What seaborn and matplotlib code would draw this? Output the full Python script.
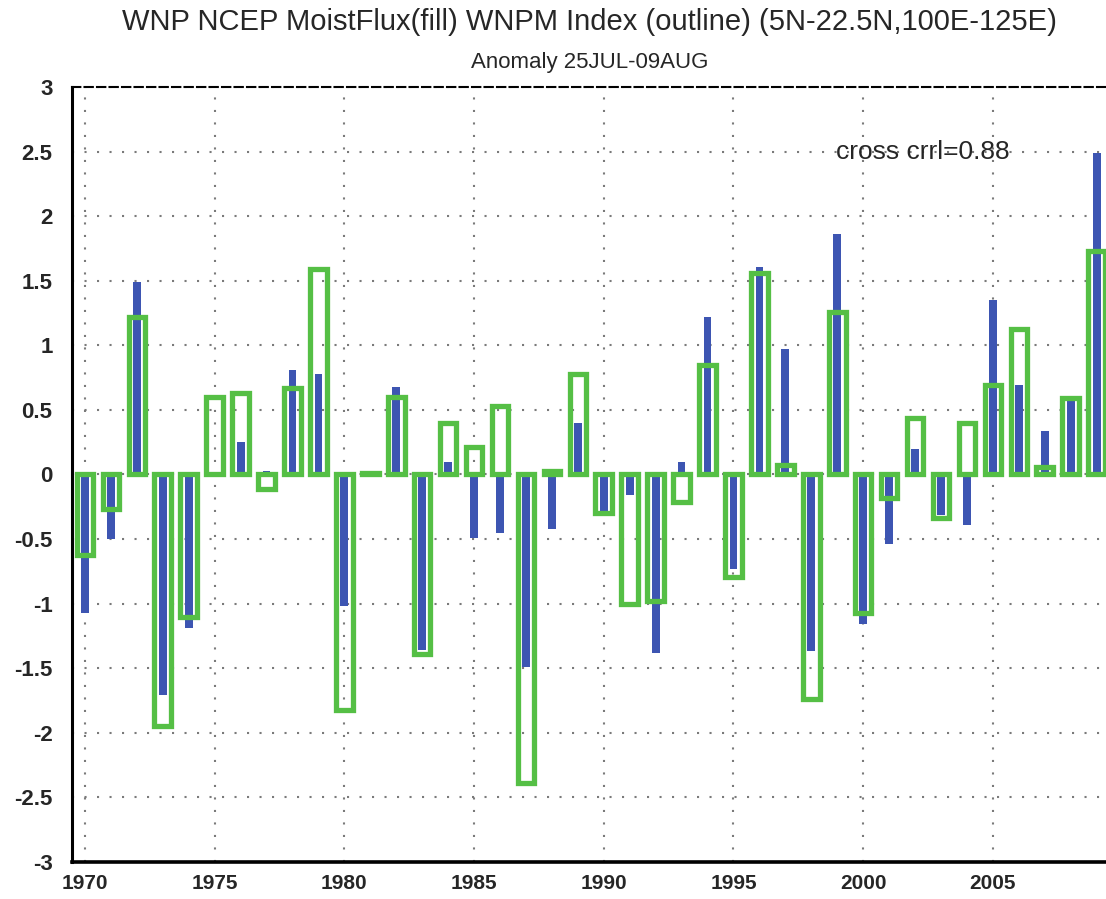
import matplotlib
matplotlib.use('Agg')
import matplotlib.pyplot as plt
import seaborn as sns

years = list(range(1970, 2010))

# moisture flux anomaly (filled blue bars)
moist_flux = [-1.07, -0.50, 1.49, -1.71, -1.19, 0.00, 0.25, 0.03, 0.81, 0.78,
              -1.02, 0.00, 0.68, -1.36, 0.10, -0.49, -0.45, -1.49, -0.42, 0.40,
              -0.28, -0.16, -1.38, 0.10, 1.22, -0.73, 1.61, 0.97, -1.37, 1.86,
              -1.16, -0.54, 0.20, -0.31, -0.39, 1.35, 0.69, 0.34, 0.57, 2.49]

# WNPM index (green outline bars)
wnpm_index = [-0.62, -0.27, 1.22, -1.95, -1.10, 0.60, 0.63, -0.11, 0.67, 1.59,
              -1.82, 0.01, 0.60, -1.39, 0.40, 0.21, 0.53, -2.39, 0.03, 0.78,
              -0.30, -1.00, -0.98, -0.21, 0.85, -0.79, 1.56, 0.07, -1.74, 1.26,
              -1.07, -0.18, 0.44, -0.34, 0.40, 0.69, 1.13, 0.06, 0.59, 1.73]

x_ticks = [1970, 1975, 1980, 1985, 1990, 1995, 2000, 2005]
y_ticks = [-3, -2.5, -2, -1.5, -1, -0.5, 0, 0.5, 1, 1.5, 2, 2.5, 3]
y_labels = ['-3', '-2.5', '-2', '-1.5', '-1', '-0.5', '0', '0.5', '1', '1.5', '2', '2.5', '3']

BLUE = '#3d55b2'
GREEN = '#55bf45'

sns.set_style('white')
plt.rcParams['font.family'] = ['Liberation Sans', 'DejaVu Sans']

fig = plt.figure(figsize=(11.06, 8.99), dpi=100)
ax = fig.add_axes([0.0651, 0.0412, 0.937, 0.862])

sns.barplot(x=years, y=moist_flux, native_scale=True, width=0.3, color=BLUE,
            saturation=1, errorbar=None, linewidth=0, ax=ax)
sns.barplot(x=years, y=wnpm_index, native_scale=True, width=0.64, color=GREEN,
            saturation=1, errorbar=None, fill=False, linewidth=3.8, ax=ax)

ax.set_xlim(1969.5, 2009.45)
ax.set_ylim(-3, 3)
ax.set_xticks(x_ticks)
ax.set_xticklabels([str(y) for y in x_ticks], fontsize=15, fontweight='bold')
ax.set_yticks(y_ticks)
ax.set_yticklabels(y_labels, fontsize=16, fontweight='bold')
ax.set_xticks(years, minor=True)
ax.tick_params(axis='both', which='major', direction='out', length=4, width=1.2)
ax.tick_params(axis='y', which='major', pad=10)
ax.tick_params(axis='x', which='major', pad=5)
ax.tick_params(axis='x', which='minor', direction='out', length=3, width=1)
ax.set_xlabel('')
ax.set_ylabel('')

ax.grid(True, which='major', color='#7a7a7a', linestyle=(0, (1, 5)), linewidth=1.5)
ax.set_axisbelow(True)

for side in ['left', 'bottom', 'top']:
    ax.spines[side].set_visible(True)
    ax.spines[side].set_color('black')
ax.spines['left'].set_linewidth(2.2)
ax.spines['bottom'].set_linewidth(2.6)
ax.spines['bottom'].set_linestyle((0, (3, 1)))
ax.spines['top'].set_linewidth(1.5)
ax.spines['top'].set_linestyle((0, (4, 2)))
ax.spines['right'].set_visible(False)

ax.text(1998.95, 2.5, 'cross crrl=0.88', fontsize=19, ha='left', va='center')

fig.text(0.533, 0.975, 'WNP NCEP MoistFlux(fill) WNPM Index (outline) (5N-22.5N,100E-125E)',
         ha='center', va='center', fontsize=21)
fig.text(0.533, 0.931, 'Anomaly 25JUL-09AUG', ha='center', va='center', fontsize=16)

fig.savefig('out.png', dpi=100)
